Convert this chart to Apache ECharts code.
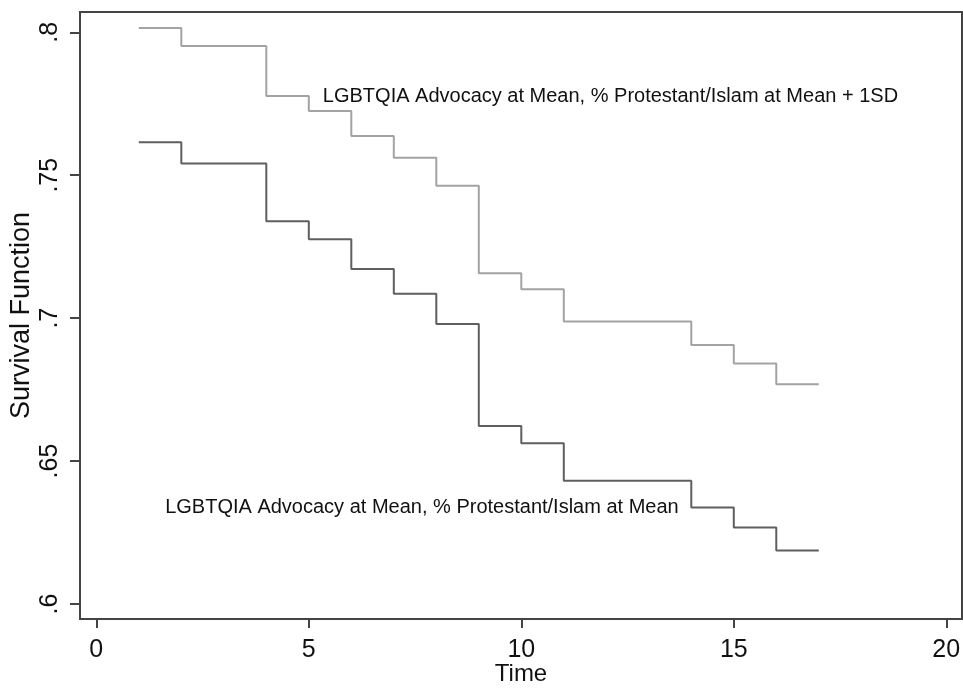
<!DOCTYPE html>
<html>
<head>
<meta charset="utf-8">
<script src="https://cdn.jsdelivr.net/npm/echarts@6/dist/echarts.min.js"></script>
<style>html,body{margin:0;padding:0;background:#fff}#c{width:963px;height:690px}</style>
</head>
<body>
<div id="c"></div>
<script>
const times = [1, 2, 4, 5, 6, 7, 8, 9, 10, 11, 14, 15, 16, 17];
const upperValues = [0.8015, 0.7952, 0.7777, 0.7725, 0.7637, 0.7561, 0.7463, 0.7157, 0.7101, 0.6988, 0.6906, 0.6841, 0.6769, 0.6769];
const lowerValues = [0.7615, 0.7541, 0.7339, 0.7276, 0.7172, 0.7085, 0.6980, 0.6623, 0.6562, 0.6431, 0.6338, 0.6268, 0.6187, 0.6187];
const xTicks = [0, 5, 10, 15, 20];
const yTicks = [0.6, 0.65, 0.7, 0.75, 0.8];
const yTickLabels = ['.6', '.65', '.7', '.75', '.8'];
const upperLabel = 'LGBTQIA Advocacy at Mean, % Protestant/Islam at Mean + 1SD';
const lowerLabel = 'LGBTQIA Advocacy at Mean, % Protestant/Islam at Mean';
const upperLabelAt = [5.33, 0.7774];
const lowerLabelAt = [1.62, 0.6337];

const font = 'Liberation Sans, Arial, sans-serif';
const chart = echarts.init(document.getElementById('c'));
const axisCol = '#444';
chart.setOption({
  animation: false,
  grid: { left: 80, right: 1, top: 12, bottom: 71, show: true, borderColor: axisCol, borderWidth: 2, containLabel: false, outerBoundsMode: 'none' },
  xAxis: {
    type: 'value', min: -0.384, max: 20.37,
    name: 'Time', nameLocation: 'middle', nameGap: 43, nameMoveOverlap: false,
    nameTextStyle: { fontFamily: font, fontSize: 24, color: '#111' },
    axisLine: { show: true, onZero: false, lineStyle: { color: axisCol, width: 2 } },
    splitLine: { show: false },
    axisTick: { show: true, length: 9, customValues: xTicks, lineStyle: { color: axisCol, width: 2 } },
    axisLabel: { customValues: xTicks, fontFamily: font, fontSize: 25, color: '#111', margin: 19 }
  },
  yAxis: {
    type: 'value', min: 0.59476, max: 0.8071,
    name: 'Survival Function', nameLocation: 'middle', nameGap: 45, nameMoveOverlap: false,
    nameTextStyle: { fontFamily: font, fontSize: 27, color: '#111' },
    axisLine: { show: true, onZero: false, lineStyle: { color: axisCol, width: 2 } },
    splitLine: { show: false },
    axisTick: { show: true, length: 10, customValues: yTicks, lineStyle: { color: axisCol, width: 2 } },
    axisLabel: {
      customValues: yTicks, rotate: 90, fontFamily: font, fontSize: 25, color: '#111', margin: 17,
      formatter: v => { const i = yTicks.findIndex(t => Math.abs(t - v) < 1e-6); return i >= 0 ? yTickLabels[i] : ''; }
    }
  },
  series: [
    {
      type: 'line', step: 'end', symbol: 'none',
      data: times.map((t, i) => [t, upperValues[i]]),
      lineStyle: { color: '#a3a3a3', width: 2 },
      markPoint: {
        symbol: 'circle', symbolSize: 0,
        label: { show: true, position: 'right', distance: 0, formatter: upperLabel, fontFamily: font, fontSize: 20, color: '#111' },
        data: [{ coord: upperLabelAt }]
      }
    },
    {
      type: 'line', step: 'end', symbol: 'none',
      data: times.map((t, i) => [t, lowerValues[i]]),
      lineStyle: { color: '#5f5f5f', width: 2 },
      markPoint: {
        symbol: 'circle', symbolSize: 0,
        label: { show: true, position: 'right', distance: 0, formatter: lowerLabel, fontFamily: font, fontSize: 20, color: '#111' },
        data: [{ coord: lowerLabelAt }]
      }
    }
  ]
});
</script>
</body>
</html>
